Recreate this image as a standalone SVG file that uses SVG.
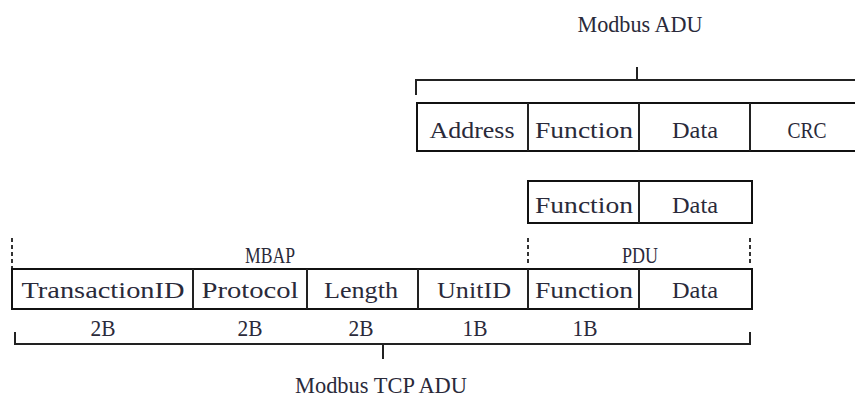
<svg xmlns="http://www.w3.org/2000/svg" width="855" height="399" viewBox="0 0 855 399">
<style>
.box{fill:#fff;stroke:#111;stroke-width:2}
.ln{fill:none;stroke:#222;stroke-width:2}
.dash{fill:none;stroke:#333;stroke-width:2;stroke-dasharray:4 3}
text{font-family:"Liberation Serif","DejaVu Serif",serif;font-size:23px;fill:#2a2a3a;text-anchor:middle}
</style>
<rect width="855" height="399" fill="#fff"/>
<g id="connectors">
<path class="ln" d="M416,95 V80 H855 M637,67 V80"/>
<path class="ln" d="M15,332 V344 H750 V332 M383,344 V359"/>
<path class="dash" d="M12,238 V268 M528,238 V266 M750,238 V266"/>
</g>
<g id="modbus-adu">
<text x="640" y="32" textLength="125" lengthAdjust="spacingAndGlyphs">Modbus ADU</text>
<rect class="box" x="417" y="103" width="450" height="48"/>
<path class="ln" d="M528,103 V151 M639,103 V151 M750,103 V151"/>
<text x="472" y="138" textLength="85" lengthAdjust="spacingAndGlyphs">Address</text>
<text x="584" y="138" textLength="98" lengthAdjust="spacingAndGlyphs">Function</text>
<text x="695" y="138" textLength="46" lengthAdjust="spacingAndGlyphs">Data</text>
<text x="807" y="138" textLength="39" lengthAdjust="spacingAndGlyphs">CRC</text>
</g>
<g id="pdu">
<rect class="box" x="528" y="181" width="224" height="42"/>
<path class="ln" d="M639,181 V223"/>
<text x="584" y="213" textLength="98" lengthAdjust="spacingAndGlyphs">Function</text>
<text x="695" y="213" textLength="46" lengthAdjust="spacingAndGlyphs">Data</text>
</g>
<g id="tcp-adu">
<text x="270" y="263" textLength="50" lengthAdjust="spacingAndGlyphs">MBAP</text>
<text x="640" y="263" textLength="36" lengthAdjust="spacingAndGlyphs">PDU</text>
<rect class="box" x="12" y="269" width="740" height="40"/>
<path class="ln" d="M193,269 V309 M307,269 V309 M418,269 V309 M528,269 V309 M639,269 V309"/>
<text x="103" y="298" textLength="163" lengthAdjust="spacingAndGlyphs">TransactionID</text>
<text x="250" y="298" textLength="97" lengthAdjust="spacingAndGlyphs">Protocol</text>
<text x="361" y="298" textLength="74" lengthAdjust="spacingAndGlyphs">Length</text>
<text x="474" y="298" textLength="74" lengthAdjust="spacingAndGlyphs">UnitID</text>
<text x="584" y="298" textLength="98" lengthAdjust="spacingAndGlyphs">Function</text>
<text x="695" y="298" textLength="46" lengthAdjust="spacingAndGlyphs">Data</text>
<text x="103" y="336" textLength="25" lengthAdjust="spacingAndGlyphs">2B</text>
<text x="250" y="336" textLength="25" lengthAdjust="spacingAndGlyphs">2B</text>
<text x="361" y="336" textLength="25" lengthAdjust="spacingAndGlyphs">2B</text>
<text x="475" y="336" textLength="25" lengthAdjust="spacingAndGlyphs">1B</text>
<text x="585" y="336" textLength="25" lengthAdjust="spacingAndGlyphs">1B</text>
<text x="381" y="393" textLength="172" lengthAdjust="spacingAndGlyphs">Modbus TCP ADU</text>
</g>
</svg>
